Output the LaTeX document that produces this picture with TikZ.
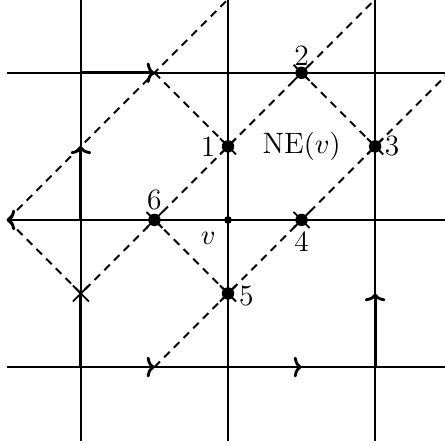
\documentclass[tikz,border=0pt]{standalone}
\usetikzlibrary{arrows.meta,shapes.misc}
\begin{document}
\begin{tikzpicture}[x=1cm,y=1cm,
  gridline/.style={line width=0.75pt},
  thickseg/.style={line width=1.1pt},
  arr/.style={thickseg,-{To[length=3pt,width=8pt]}},
  diag/.style={line width=0.75pt,dash pattern=on 3pt off 2.3pt},
  pt/.style={circle,fill,inner sep=0pt,minimum size=4.8pt},
  vpt/.style={circle,fill,inner sep=0pt,minimum size=3pt},
  xmk/.style={cross out,draw,inner sep=0pt,minimum size=5.5pt,line width=0.7pt},
  lab/.style={font=\fontsize{11.4}{14}\selectfont,inner sep=0pt}]
\useasboundingbox (-3.10,-3.06) rectangle (2.95,2.99);
\clip (-3.10,-3.06) rectangle (2.95,2.99);
% grid
\foreach \c/\n in {-2/a,0/b,2/c}{
  \coordinate (L\n) at (-3,\c); \coordinate (R\n) at (3,\c);
  \coordinate (B\n) at (\c,-3); \coordinate (T\n) at (\c,3);
  \draw[gridline] (L\n) -- (R\n);
  \draw[gridline] (B\n) -- (T\n);
}
% lattice coordinates
\coordinate (v) at (0,0);
\coordinate (gl) at (-2,0);
\coordinate (gul) at (-2,2);
\coordinate (gdl) at (-2,-2);
\coordinate (gd) at (0,-2);
\coordinate (gdr) at (2,-2);
\coordinate (aL) at (-3,0);
\coordinate (aU) at (-2,1);
\coordinate (aT) at (-1,2);
\coordinate (aX) at (-2,-1);
\coordinate (aB) at (-1,-2);
\coordinate (aB2) at (1,-2);
\coordinate (aR) at (2,-1);
\coordinate (eA) at (0,3);
\coordinate (eB) at (2,3);
\coordinate (eC) at (3,2);
\coordinate (p1c) at (0,1);
\coordinate (p2c) at (1,2);
\coordinate (p3c) at (2,1);
\coordinate (p4c) at (1,0);
\coordinate (p5c) at (0,-1);
\coordinate (p6c) at (-1,0);
% thick segments
\draw[thickseg] (p1c) -- (p5c);
\draw[thickseg] (p6c) -- (p4c);
\draw[thickseg] (aX) -- (gdl) -- (aB);
\draw[arr] (gl) -- (aL);
\draw[arr] (gl) -- (aU);
\draw[arr] (gul) -- (aT);
\draw[arr] (gdl) -- (aB);
\draw[arr] (gd) -- (aB2);
\draw[arr] (gdr) -- (aR);
% dashed diagonals
\draw[diag] (aL) -- (eA);
\draw[diag] (aL) -- (aX) -- (eB);
\draw[diag] (aT) -- (p1c);
\draw[diag] (p2c) -- (p3c);
\draw[diag] (p6c) -- (p5c);
\draw[diag] (aB) -- (eC);
% marks
\node[xmk] (xx) at (aX) {};
\foreach \i in {1,...,6}{ \node[xmk] (x\i) at (p\i c) {}; }
\foreach \i in {1,...,6}{ \node[pt] (p\i) at (p\i c) {}; }
\node[vpt] (vv) at (v) {};
% labels
\node[lab] (l1) at (-0.27,1) {1};
\node[lab] (l2) at (1,2.23) {2};
\node[lab] (l3) at (2.23,1) {3};
\node[lab] (l4) at (1,-0.30) {4};
\node[lab] (l5) at (0.25,-1.03) {5};
\node[lab] (l6) at (-1,0.27) {6};
\node[lab] (lv) at (-0.27,-0.25) {$v$};
\node[lab] (lne) at (1,1) {NE$(v)$};
\end{tikzpicture}
\end{document}
